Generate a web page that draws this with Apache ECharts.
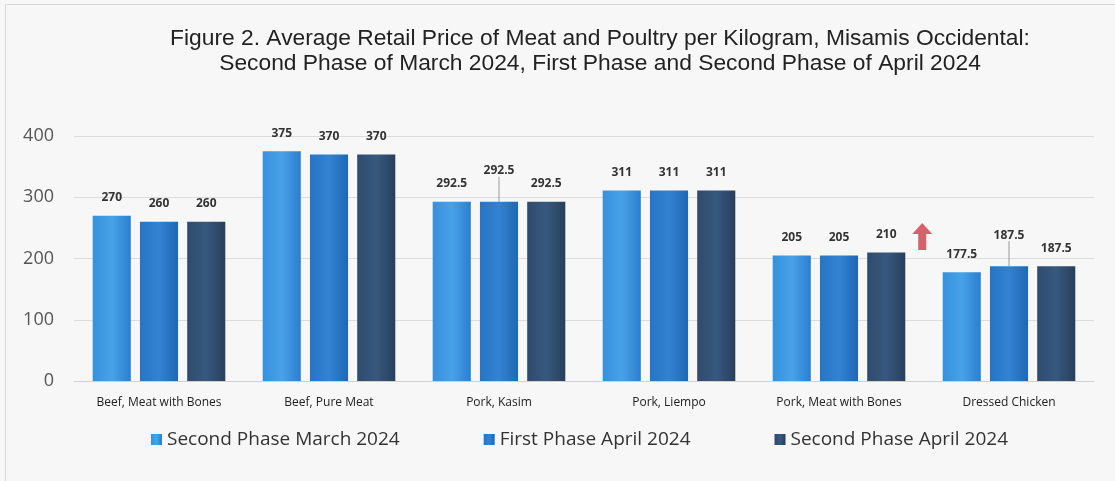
<!DOCTYPE html>
<html>
<head>
<meta charset="utf-8">
<script src="https://cdn.jsdelivr.net/npm/echarts@6/dist/echarts.min.js"></script>
<style>
  html, body { margin: 0; padding: 0; background: #f7f7f7; }
  #main { width: 1115px; height: 481px; }
</style>
</head>
<body>
<div id="main"></div>
<script>
var categories = ['Beef, Meat with Bones', 'Beef, Pure Meat', 'Pork, Kasim', 'Pork, Liempo', 'Pork, Meat with Bones', 'Dressed Chicken'];
var marchSecond = [270, 375, 292.5, 311, 205, 177.5];
var aprilFirst = [260, 370, 292.5, 311, 205, 187.5];
var aprilSecond = [260, 370, 292.5, 311, 210, 187.5];
var yTicks = [0, 100, 200, 300, 400];
var seriesNames = ['Second Phase March 2024', 'First Phase April 2024', 'Second Phase April 2024'];
// 带引导线的标签
var raisedLabels = [2, 5];

var myChart = echarts.init(document.getElementById('main'));

// 柱子渐变色，模拟原图的立体效果
function barColor(dark, mid, light) {
    return new echarts.graphic.LinearGradient(0, 0, 1, 0, [
        { offset: 0, color: mid },
        { offset: 0.5, color: light },
        { offset: 1, color: dark }
    ]);
}

var labelStyle = {
    show: true,
    position: 'top',
    distance: 12,
    fontFamily: 'Open Sans',
    fontWeight: 'bold',
    fontSize: 12,
    color: '#333'
};

var arrowPath = 'path://M10,0 L20,11 L14,11 L14,27 L6,27 L6,11 L0,11 Z';

var option = {
    backgroundColor: '#f7f7f7',
    animation: false,
    title: {
        text: 'Figure 2. Average Retail Price of Meat and Poultry per Kilogram, Misamis Occidental:\nSecond Phase of March 2024, First Phase and Second Phase of April 2024',
        left: 595,
        textAlign: 'center',
        top: 21,
        textStyle: {
            fontFamily: 'Liberation Sans',
            fontWeight: 'normal',
            fontSize: 22.8,
            lineHeight: 25,
            color: '#222'
        }
    },
    graphic: [{
        type: 'rect',
        shape: { x: 5.5, y: 4.5, width: 1130, height: 500 },
        style: { fill: 'none', stroke: '#d8d8d8', lineWidth: 1 }
    }],
    legend: {
        bottom: 27,
        left: 146,
        itemWidth: 11,
        itemHeight: 11,
        itemGap: 84,
        icon: 'rect',
        textStyle: {
            fontFamily: 'Open Sans',
            fontSize: 19,
            color: '#333'
        },
        data: seriesNames
    },
    grid: {
        left: 74,
        right: 21,
        top: 136,
        bottom: 100,
        containLabel: false
    },
    xAxis: {
        type: 'category',
        data: categories,
        axisTick: { show: false },
        axisLine: { lineStyle: { color: '#d0d0d0' } },
        axisLabel: {
            fontFamily: 'Open Sans',
            fontSize: 12,
            color: '#222',
            margin: 16
        }
    },
    yAxis: {
        type: 'value',
        min: 0,
        max: 400,
        interval: 100,
        axisLine: { show: false },
        axisTick: { show: false },
        axisLabel: {
            fontFamily: 'Open Sans',
            fontSize: 18,
            color: '#555',
            margin: 20,
            customValues: yTicks
        },
        splitLine: { lineStyle: { color: '#dcdcdc' } }
    },
    series: [
        {
            name: seriesNames[0],
            type: 'bar',
            data: marchSecond,
            barGap: '24%',
            barCategoryGap: '22%',
            itemStyle: { color: barColor('#2c7fce', '#3790dc', '#48a2e8') },
            label: labelStyle
        },
        {
            name: seriesNames[1],
            type: 'bar',
            data: aprilFirst.map(function (v, i) {
                if (raisedLabels.indexOf(i) >= 0) {
                    return { value: v, labelLine: { show: true } };
                }
                return { value: v, labelLine: { show: false } };
            }),
            itemStyle: { color: barColor('#1f67b4', '#2774c5', '#3283d2') },
            label: labelStyle,
            labelLine: { show: false, lineStyle: { color: '#999', width: 1 } },
            labelLayout: function (params) {
                if (raisedLabels.indexOf(params.dataIndex) >= 0) {
                    return { dy: -13 };
                }
                return {};
            }
        },
        {
            name: seriesNames[2],
            type: 'bar',
            data: aprilSecond,
            itemStyle: { color: barColor('#283f5d', '#2f4b6d', '#38587e') },
            label: labelStyle,
            markPoint: {
                silent: true,
                symbol: arrowPath,
                symbolSize: [20, 27],
                symbolOffset: [36, -16],
                itemStyle: { color: '#d9606a' },
                label: { show: false },
                data: [{ coord: [4, 210] }]
            }
        }
    ]
};

myChart.setOption(option);
</script>
</body>
</html>
